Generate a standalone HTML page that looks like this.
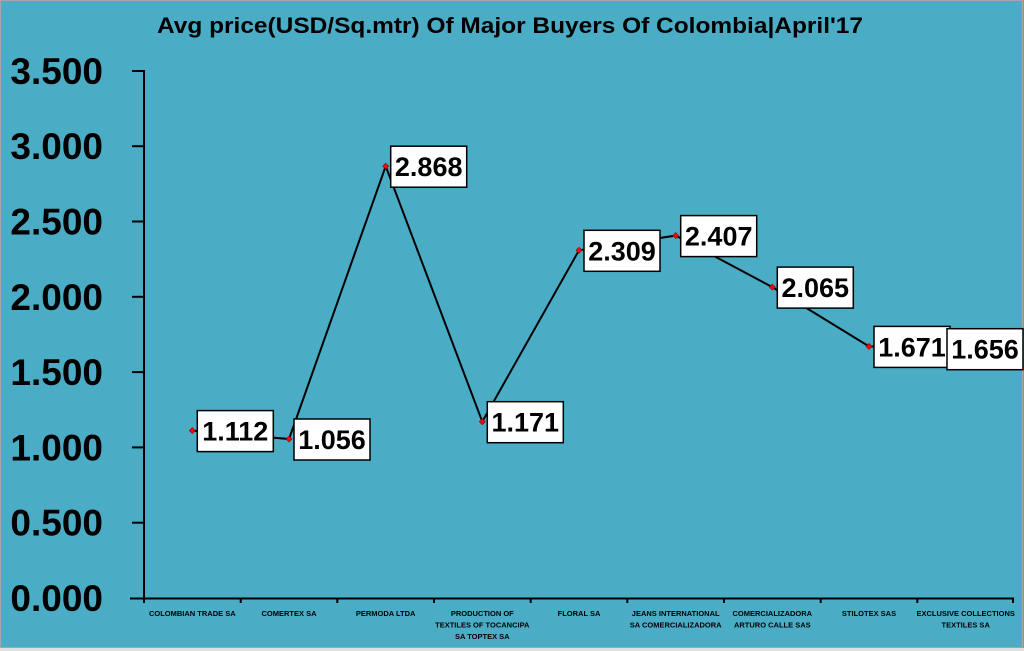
<!DOCTYPE html>
<html><head><meta charset="utf-8"><style>
html,body{margin:0;padding:0;background:#4bacc6;}
svg{display:block;}
</style></head><body>
<svg width="1024" height="651" viewBox="0 0 1024 651" xmlns="http://www.w3.org/2000/svg" font-family="'Liberation Sans', sans-serif">
<rect x="0" y="0" width="1024" height="651" fill="#4bacc6"/>
<rect x="0.5" y="0.5" width="1022" height="647" fill="none" stroke="#a6a6a6" stroke-width="1"/>
<rect x="0" y="648" width="1024" height="3" fill="#e0e0e0"/>
<text x="510" y="33" font-size="22" font-weight="bold" text-anchor="middle" textLength="706" lengthAdjust="spacingAndGlyphs" fill="#000">Avg price(USD/Sq.mtr) Of Major Buyers Of Colombia|April'17</text>
<!-- y axis -->
<g stroke="#000" stroke-width="2">
<line x1="144" y1="70" x2="144" y2="599"/>
<line x1="132" y1="71" x2="144" y2="71"/>
<line x1="132" y1="146.2" x2="144" y2="146.2"/>
<line x1="132" y1="221.5" x2="144" y2="221.5"/>
<line x1="132" y1="296.8" x2="144" y2="296.8"/>
<line x1="132" y1="372.1" x2="144" y2="372.1"/>
<line x1="132" y1="447.4" x2="144" y2="447.4"/>
<line x1="132" y1="522.7" x2="144" y2="522.7"/>
<line x1="130" y1="598.5" x2="1014" y2="598.5"/>
<line x1="144" y1="598" x2="144" y2="603"/>
<line x1="240.7" y1="598" x2="240.7" y2="603"/>
<line x1="337.3" y1="598" x2="337.3" y2="603"/>
<line x1="434" y1="598" x2="434" y2="603"/>
<line x1="530.7" y1="598" x2="530.7" y2="603"/>
<line x1="627.3" y1="598" x2="627.3" y2="603"/>
<line x1="724" y1="598" x2="724" y2="603"/>
<line x1="820.7" y1="598" x2="820.7" y2="603"/>
<line x1="917.3" y1="598" x2="917.3" y2="603"/>
<line x1="1013" y1="598" x2="1013" y2="603"/>
</g>
<g font-size="37" font-weight="bold" text-anchor="end" fill="#000">
<text x="103" y="84">3.500</text>
<text x="103" y="159.2">3.000</text>
<text x="103" y="234.5">2.500</text>
<text x="103" y="309.8">2.000</text>
<text x="103" y="385.1">1.500</text>
<text x="103" y="460.4">1.000</text>
<text x="103" y="535.7">0.500</text>
<text x="103" y="611">0.000</text>
</g>
<!-- x labels -->
<g font-size="7.5" font-weight="bold" text-anchor="middle" fill="#000">
<text x="192.3" y="616">COLOMBIAN TRADE SA</text>
<text x="289" y="616">COMERTEX SA</text>
<text x="385.7" y="616">PERMODA LTDA</text>
<text x="482.3" y="616">PRODUCTION OF</text>
<text x="482.3" y="627.5">TEXTILES OF TOCANCIPA</text>
<text x="482.3" y="639">SA TOPTEX SA</text>
<text x="579" y="616">FLORAL SA</text>
<text x="675.7" y="616">JEANS INTERNATIONAL</text>
<text x="675.7" y="627.5">SA COMERCIALIZADORA</text>
<text x="772.3" y="616">COMERCIALIZADORA</text>
<text x="772.3" y="627.5">ARTURO CALLE SAS</text>
<text x="869" y="616">STILOTEX SAS</text>
<text x="965.7" y="616">EXCLUSIVE COLLECTIONS</text>
<text x="965.7" y="627.5">TEXTILES SA</text>
</g>
<!-- series line -->
<polyline fill="none" stroke="#000" stroke-width="2" points="192.3,430.6 289,439 385.7,166.2 482.3,421.7 579,250.3 675.7,235.6 772.3,287.1 869,346.4 965.7,348.7"/>
<g fill="#ff0000" stroke="#8b0000" stroke-width="0.6">
<path d="M192.3 427.6 L195.3 430.6 L192.3 433.6 L189.3 430.6Z"/>
<path d="M289 436 L292 439 L289 442 L286 439Z"/>
<path d="M385.7 163.2 L388.7 166.2 L385.7 169.2 L382.7 166.2Z"/>
<path d="M482.3 418.7 L485.3 421.7 L482.3 424.7 L479.3 421.7Z"/>
<path d="M579 247.3 L582 250.3 L579 253.3 L576 250.3Z"/>
<path d="M675.7 232.6 L678.7 235.6 L675.7 238.6 L672.7 235.6Z"/>
<path d="M772.3 284.1 L775.3 287.1 L772.3 290.1 L769.3 287.1Z"/>
<path d="M869 343.4 L872 346.4 L869 349.4 L866 346.4Z"/>
</g>
<!-- data labels -->
<g stroke="#000" stroke-width="1.5" fill="#fff">
<rect x="197.3" y="410.6" width="76" height="41"/>
<rect x="294" y="419" width="76" height="41"/>
<rect x="390.7" y="146.2" width="76" height="41"/>
<rect x="487.3" y="401.7" width="76" height="41"/>
<rect x="584" y="230.3" width="76" height="41"/>
<rect x="680.7" y="215.6" width="76" height="41"/>
<rect x="777.3" y="267.1" width="76" height="41"/>
<rect x="874" y="326.4" width="76" height="41"/>
<rect x="947" y="328.7" width="76" height="41"/>
</g>
<g font-size="27" font-weight="bold" text-anchor="middle" fill="#000">
<text x="235.3" y="440.6">1.112</text>
<text x="332" y="449">1.056</text>
<text x="428.7" y="176.2">2.868</text>
<text x="525.3" y="431.7">1.171</text>
<text x="622" y="260.3">2.309</text>
<text x="718.7" y="245.6">2.407</text>
<text x="815.3" y="297.1">2.065</text>
<text x="912" y="356.4">1.671</text>
<text x="985" y="358.7">1.656</text>
</g>
</svg>
</body></html>
